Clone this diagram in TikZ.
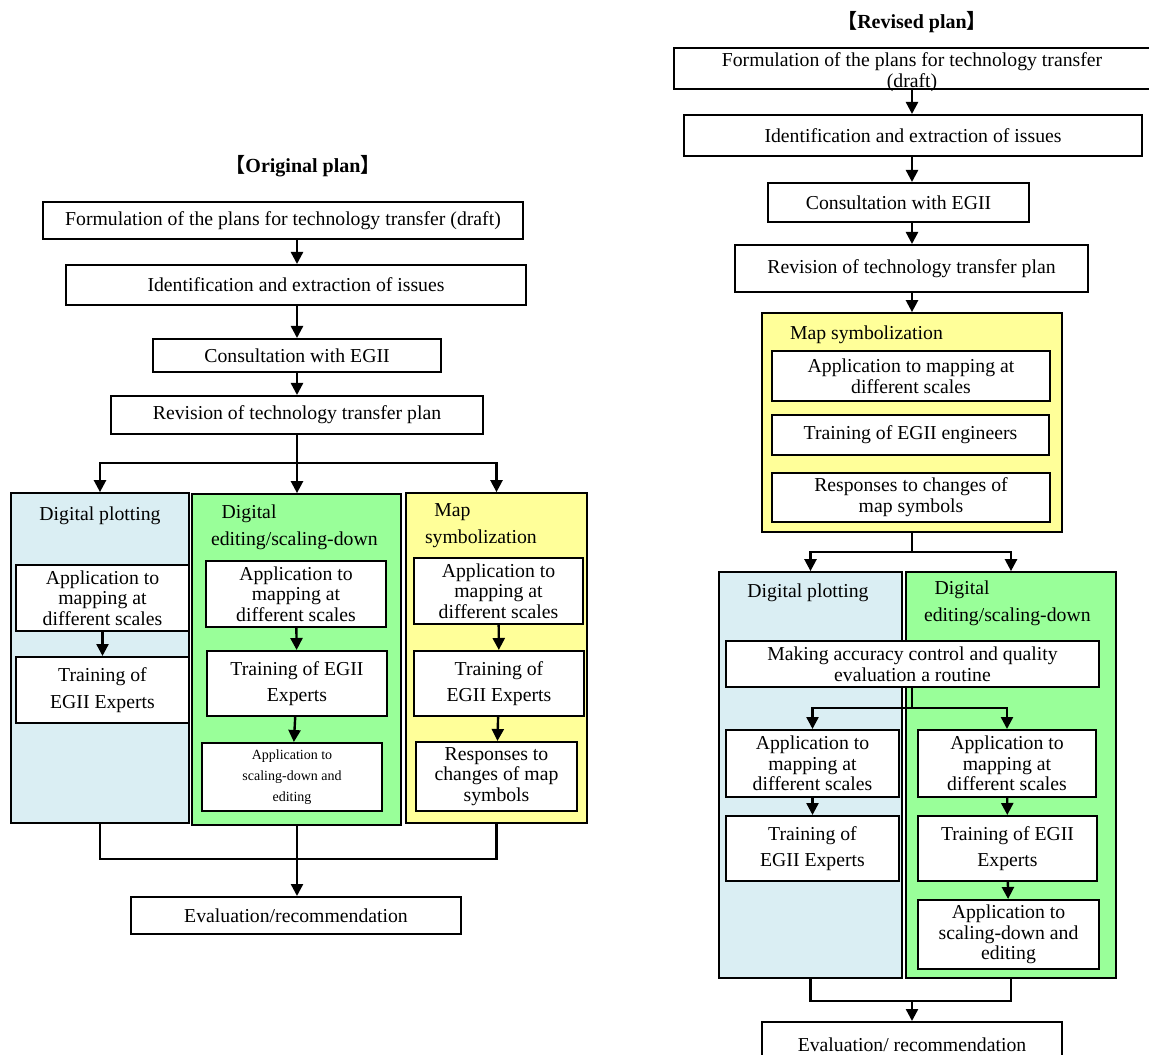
\documentclass[tikz,border=0pt]{standalone}
\usepackage{fontspec}
\setmainfont{Liberation Serif}
\newfontfamily\cjk{Noto Sans CJK SC}
\usepackage{tikz}
\usetikzlibrary{arrows.meta, positioning}

\definecolor{plotblue}{RGB}{218,238,243}
\definecolor{editgreen}{RGB}{153,255,153}
\definecolor{symbyellow}{RGB}{255,255,153}

\begin{document}
\begin{tikzpicture}[
  x=0.75pt, y=-0.75pt,
  >={Triangle[width=9pt,length=9pt]},
  line width=1.5pt,
  wh/.style 2 args={minimum width=#1*0.75pt, minimum height=#2*0.75pt},
  box/.style={draw, fill=white, align=center, inner sep=0pt, font=\fontsize{14.8}{15.5}\selectfont},
  widebox/.style={box, font=\fontsize{14.8}{20}\selectfont},
  smallbox/.style={box, font=\fontsize{10.5}{15.5}\selectfont},
  panel/.style={draw, inner sep=0pt, line width=1.3pt},
  head/.style={inner sep=0pt, align=left, font=\fontsize{14.8}{20}\selectfont},
  plantitle/.style={inner sep=0pt, font=\bfseries\fontsize{15}{18}\selectfont},
  flow/.style={->, line width=1.8pt},
  link/.style={line width=1.8pt},
]
\useasboundingbox (0,0) rectangle (1149,1055);

% original plan
\node (otitle) [plantitle] at (303,166) {{\cjk 【}Original plan{\cjk 】}};
\node (oform) [box, wh={480}{37}] at (283,220.5) {Formulation of the plans for technology transfer (draft)};
\node (oident) [box, wh={460}{40}] at (296,285) {Identification and extraction of issues};
\node (ocons) [box, wh={288}{33}] at (297,355.5) {Consultation with EGII};
\node (orev) [box, wh={372}{38}] at (297,415) {Revision of technology transfer plan};
\coordinate (ocol) at (297,0);
\coordinate (osplit) at (297,463);
\coordinate (omerge) at (297,859);

\node (oblue) [panel, fill=plotblue, wh={178}{330}] at (100,658) {};
\node (ogreen) [panel, fill=editgreen, wh={209}{331}] at (296.5,659.5) {};
\node (oyellow) [panel, fill=symbyellow, wh={181}{330}] at (496.5,658) {};
\node (obhead) [head] at (100,516) {Digital plotting};
\node (oghead) [head, anchor=west] at (210,527) {\hspace*{8pt}Digital\\editing/scaling-down};
\node (oyhead) [head, anchor=west] at (424,526) {\hspace*{7pt}Map\\symbolization};

\node (obA) [box, wh={173}{66}] at (102.5,598) {Application to\\mapping at\\different scales};
\node (obB) [widebox, wh={173}{66}] at (102.5,690) {Training of\\EGII Experts};
\node (ogA) [box, wh={180}{66}] at (296,594) {Application to\\mapping at\\different scales};
\node (ogB) [widebox, wh={180}{65}] at (297,683.5) {Training of EGII\\Experts};
\node (ogC) [smallbox, wh={180}{68}] at (292,777) {Application to\\scaling-down and\\editing};
\node (oyA) [box, wh={169}{66}] at (498.5,591) {Application to\\mapping at\\different scales};
\node (oyB) [widebox, wh={170}{65}] at (499,683.5) {Training of\\EGII Experts};
\node (oyC) [box, wh={161}{69}] at (496.5,776.5) {Responses to\\changes of map\\symbols};
\node (oeval) [box, wh={330}{37}] at (296,915.5) {Evaluation/recommendation};

\draw[flow] (oform.south -| ocol) -- (oident.north -| ocol);
\draw[flow] (oident.south -| ocol) -- (ocons.north -| ocol);
\draw[flow] (ocons.south -| ocol) -- (orev.north -| ocol);
\draw[link] (orev.south -| ocol) -- (osplit);
\draw[flow] (osplit) -| (oblue.north);
\draw[flow] (osplit) -- (ogreen.north -| osplit);
\draw[flow] (osplit) -| (oyellow.north);
\draw[flow] (obA) -- (obB);
\draw[flow] (ogA) -- (ogB);
\draw[flow] (ogB) -- (ogC);
\draw[flow] (oyA) -- (oyB);
\draw[flow] (oyB) -- (oyC);
\draw[link] (oblue.south) |- (omerge) -| (oyellow.south);
\draw[flow] (ogreen.south -| omerge) -- (oeval.north -| omerge);

% revised plan
\node (rtitle) [plantitle] at (912,22) {{\cjk 【}Revised plan{\cjk 】}};
\node (rform) [box, wh={496}{41}] at (922,68.5) {};
\node (rformtext) [box, draw=none, fill=none] at (912,72) {Formulation of the plans for technology transfer\\(draft)};
\node (rident) [box, wh={458}{41}] at (913,135.5) {Identification and extraction of issues};
\node (rcons) [box, wh={261}{39}] at (898.5,202.5) {Consultation with EGII};
\node (rrev) [box, wh={353}{47}] at (911.5,268.5) {Revision of technology transfer plan};
\coordinate (rcol) at (912,0);
\coordinate (rsplit) at (912,552);
\coordinate (rsplitb) at (912,708);
\coordinate (rmerge) at (912,1001);

\node (ryellow) [panel, fill=symbyellow, wh={300}{219}] at (912,422.5) {};
\node (ryhead) [head, anchor=west] at (789,335) {Map symbolization};
\node (ryA) [box, wh={278}{50}] at (911,376) {Application to mapping at\\different scales};
\node (ryB) [box, wh={277}{40}] at (910.5,435) {Training of EGII engineers};
\node (ryC) [box, wh={278}{49}] at (911,497.5) {Responses to changes of\\map symbols};

\node (rblue) [panel, fill=plotblue, wh={183}{406}] at (810.5,775) {};
\node (rgreen) [panel, fill=editgreen, wh={210}{406}] at (1011,775) {};
\node (rbhead) [head] at (808,593) {Digital plotting};
\node (rghead) [head, anchor=west] at (923,603) {\hspace*{8pt}Digital\\editing/scaling-down};
\node (rmake) [box, wh={373}{46}] at (912.5,664) {Making accuracy control and quality\\evaluation a routine};

\node (rbA) [box, wh={173}{67}] at (812.5,763.5) {Application to\\mapping at\\different scales};
\node (rbB) [widebox, wh={173}{65}] at (812.5,848.5) {Training of\\EGII Experts};
\node (rgA) [box, wh={178}{67}] at (1007,763.5) {Application to\\mapping at\\different scales};
\node (rgB) [widebox, wh={179}{65}] at (1007.5,848.5) {Training of EGII\\Experts};
\node (rgC) [box, wh={181}{69}] at (1008.5,934.5) {Application to\\scaling-down and\\editing};
\node (reval) [box, wh={300}{46}] at (912,1045) {Evaluation/ recommendation};

\draw[flow] (rform.south -| rcol) -- (rident.north -| rcol);
\draw[flow] (rident.south -| rcol) -- (rcons.north -| rcol);
\draw[flow] (rcons.south -| rcol) -- (rrev.north -| rcol);
\draw[flow] (rrev.south -| rcol) -- (ryellow.north -| rcol);
\draw[link] (ryellow.south -| rsplit) -- (rsplit);
\draw[flow] (rsplit) -| (rblue.north);
\draw[flow] (rsplit) -| (rgreen.north);
\draw[link] (rmake.south -| rsplitb) -- (rsplitb);
\draw[flow] (rsplitb) -| (rbA.north);
\draw[flow] (rsplitb) -| (rgA.north);
\draw[flow] (rbA) -- (rbB);
\draw[flow] (rgA) -- (rgB);
\draw[flow] (rgB) -- (rgC);
\draw[link] (rblue.south) |- (rmerge) -| (rgreen.south);
\draw[flow] (rmerge) -- (reval.north -| rmerge);
\end{tikzpicture}
\end{document}
